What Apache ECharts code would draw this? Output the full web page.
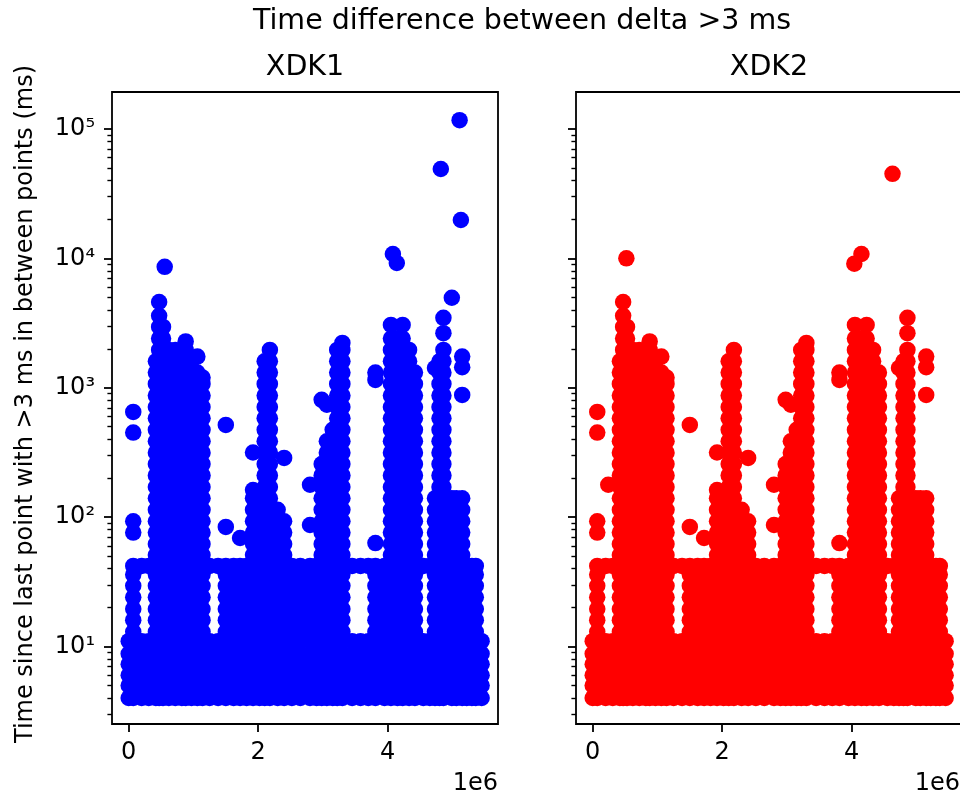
<!DOCTYPE html>
<html>
<head>
<meta charset="utf-8">
<script src="https://cdn.jsdelivr.net/npm/echarts@6/dist/echarts.min.js"></script>
<style>html,body{margin:0;padding:0;background:#fff}#c{width:960px;height:798px}</style>
</head>
<body>
<div id="c"></div>
<script>
// ---- data (x in ms, y in ms) ----
// Points visible in both panels (columns: [x, [y values]])
const sharedColumns = [
 [0,[4,5,6,7.3,8.8,11]],
 [70000,[4,5,6,7.3,8.8,11,13,16,19.5,24,29.5,36,42,76,93,450,650]],
 [200000,[4,5,6,7.3,8.8,11,42]],
 [310000,[4,5,6,7.3,8.8,11,42]],
 [420000,[4,5,6,7.3,8.8,11,13,16,19.5,24,29.5,36,42,51,62,76,93,114,140,171,210,257,315,386,473,580,710,870,1070,1310,1600]],
 [470000,[4,5,6,7.3,8.8,11,13,16,19.5,24,29.5,36,42,51,62,76,93,114,140,171,210,257,315,386,473,580,710,870,1070,1310,1600,1960,2400,2950,3600,4600]],
 [530000,[4,5,6,7.3,8.8,11,13,16,19.5,24,29.5,36,42,51,62,76,93,114,140,171,210,257,315,386,473,580,710,870,1070,1310,1600,1960,2400,2950]],
 [620000,[4,5,6,7.3,8.8,11,13,16,19.5,24,29.5,36,42,51,62,76,93,114,140,171,210,257,315,386,473,580,710,870,1070,1310,1600,1960]],
 [720000,[4,5,6,7.3,8.8,11,13,16,19.5,24,29.5,36,42,51,62,76,93,114,140,171,210,257,315,386,473,580,710,870,1070,1310,1600,1960]],
 [820000,[4,5,6,7.3,8.8,11,13,16,19.5,24,29.5,36,42,51,62,76,93,114,140,171,210,257,315,386,473,580,710,870,1070,1310,1600,1960]],
 [880000,[4,5,6,7.3,8.8,11,13,16,19.5,24,29.5,36,42,51,62,76,93,114,140,171,210,257,315,386,473,580,710,870,1070,1310,1600,1960,2280]],
 [970000,[4,5,6,7.3,8.8,11,13,16,19.5,24,29.5,36,42,51,62,76,93,114,140,171,210,257,315,386,473,580,710,870,1070,1310,1600]],
 [1060000,[4,5,6,7.3,8.8,11,13,16,19.5,24,29.5,36,42,51,62,76,93,114,140,171,210,257,315,386,473,580,710,870,1070,1310,1740]],
 [1140000,[4,5,6,7.3,8.8,11,13,16,19.5,24,29.5,36,42,51,62,76,93,114,140,171,210,257,315,386,473,580,710,870,1070,1200]],
 [1250000,[4,5,6,7.3,8.8,11,42]],
 [1380000,[4,5,6,7.3,8.8,11,42]],
 [1500000,[4,5,6,7.3,8.8,11,13,16,19.5,24,29.5,36,42,84,516]],
 [1620000,[4,5,6,7.3,8.8,11,13,16,19.5,24,29.5,36,42]],
 [1720000,[4,5,6,7.3,8.8,11,13,16,19.5,24,29.5,36,42,69]],
 [1820000,[4,5,6,7.3,8.8,11,13,16,19.5,24,29.5,36,42]],
 [1920000,[4,5,6,7.3,8.8,11,13,16,19.5,24,29.5,36,42,51,62,76,93,114,140,162,316]],
 [2020000,[4,5,6,7.3,8.8,11,13,16,19.5,24,29.5,36,42,51,62,76,93,114,140]],
 [2100000,[4,5,6,7.3,8.8,11,13,16,19.5,24,29.5,36,42,51,62,76,93,114,140,171,210,257,315,386,473,580,710,870,1070,1310,1600]],
 [2180000,[4,5,6,7.3,8.8,11,13,16,19.5,24,29.5,36,42,51,62,76,93,114,140,171,210,257,315,386,473,580,710,870,1070,1310,1600,1960]],
 [2300000,[4,5,6,7.3,8.8,11,13,16,19.5,24,29.5,36,42,51,62,76,93,114]],
 [2400000,[4,5,6,7.3,8.8,11,13,16,19.5,24,29.5,36,42,51,62,76,93,287]],
 [2520000,[4,5,6,7.3,8.8,11,13,16,19.5,24,29.5,36,42]],
 [2650000,[4,5,6,7.3,8.8,11,13,16,19.5,24,29.5,36,42]],
 [2800000,[4,5,6,7.3,8.8,11,13,16,19.5,24,29.5,36,42,87,178]],
 [2900000,[4,5,6,7.3,8.8,11,13,16,19.5,24,29.5,36,42]],
 [2980000,[4,5,6,7.3,8.8,11,13,16,19.5,24,29.5,36,42,51,62,76,93,114,140,171,210,257,807]],
 [3060000,[4,5,6,7.3,8.8,11,13,16,19.5,24,29.5,36,42,51,62,76,93,114,140,171,210,257,315,386,740]],
 [3150000,[4,5,6,7.3,8.8,11,13,16,19.5,24,29.5,36,42,51,62,76,93,114,140,171,210,257,315,386,473]],
 [3220000,[4,5,6,7.3,8.8,11,13,16,19.5,24,29.5,36,42,51,62,76,93,114,140,171,210,257,315,386,473,580,710,870,1070,1310,1600,1960]],
 [3300000,[4,5,6,7.3,8.8,11,13,16,19.5,24,29.5,36,42,51,62,76,93,114,140,171,210,257,315,386,473,580,710,870,1070,1310,1600,1960,2220]],
 [3450000,[4,5,6,7.3,8.8,11,42]],
 [3580000,[4,5,6,7.3,8.8,11,42]],
 [3700000,[4,5,6,7.3,8.8,11,42]],
 [3810000,[4,5,6,7.3,8.8,11,13,16,19.5,24,29.5,36,42,63,1150,1310]],
 [3950000,[4,5,6,7.3,8.8,11,13,16,19.5,24,29.5,36,42]],
 [4050000,[4,5,6,7.3,8.8,11,13,16,19.5,24,29.5,36,42,51,62,76,93,114,140,171,210,257,315,386,473,580,710,870,1070,1310,1600,1960,2400,3060]],
 [4150000,[4,5,6,7.3,8.8,11,13,16,19.5,24,29.5,36,42,51,62,76,93,114,140,171,210,257,315,386,473,580,710,870,1070,1310,1600,1960,2400]],
 [4230000,[4,5,6,7.3,8.8,11,13,16,19.5,24,29.5,36,42,51,62,76,93,114,140,171,210,257,315,386,473,580,710,870,1070,1310,1600,1960,2400,3060]],
 [4330000,[4,5,6,7.3,8.8,11,13,16,19.5,24,29.5,36,42,51,62,76,93,114,140,171,210,257,315,386,473,580,710,870,1070,1310,1600,1960]],
 [4420000,[4,5,6,7.3,8.8,11,13,16,19.5,24,29.5,36,42,51,62,76,93,114,140,171,210,257,315,386,473,580,710,870,1070,1310]],
 [4550000,[4,5,6,7.3,8.8,11,42]],
 [4650000,[4,5,6,7.3,8.8,11,42]],
 [4730000,[4,5,6,7.3,8.8,11,13,16,19.5,24,29.5,36,42,51,62,76,93,114,140,1420]],
 [4800000,[4,5,6,7.3,8.8,11,13,16,19.5,24,29.5,36,42,51,62,76,93,114,140,171,210,257,315,386,473,580,710,870,1070,1310,1600]],
 [4860000,[4,5,6,7.3,8.8,11,13,16,19.5,24,29.5,36,42,51,62,76,93,114,140,171,210,257,315,386,473,580,710,870,1070,1310,1600,1960,2640,3470]],
 [4990000,[4,5,6,7.3,8.8,11,13,16,19.5,24,29.5,36,42,51,62,76,93,114,140]],
 [5060000,[4,5,6,7.3,8.8,11,13,16,19.5,24,29.5,36,42,51,62,76,93,114,140]],
 [5150000,[4,5,6,7.3,8.8,11,13,16,19.5,24,29.5,36,42,51,62,76,93,114,140,880,1440,1740]],
 [5220000,[4,5,6,7.3,8.8,11,13,16,19.5,24,29.5,36,42]],
 [5300000,[4,5,6,7.3,8.8,11,13,16,19.5,24,29.5,36,42]],
 [5360000,[4,5,6,7.3,8.8,11,13,16,19.5,24,29.5,36,42]],
 [5450000,[4,5,6,7.3,8.8,11]]
];
// Points seen only in the XDK1 panel
const xdk1Only = [[556000,8600],[5110000,117000],[5130000,19800],[4820000,49000],[4990000,4960],[4080000,10800],[4140000,9200]];
// Points seen only in the XDK2 panel
const xdk2Only = [[520000,10000],[4630000,45000],[4150000,10800],[4040000,9100],[240000,178]];

const panelTitles = ['XDK1','XDK2'];
const seriesColors = ['#0000ff','#ff0000'];
const xTickValues = [0, 2000000, 4000000];
const xTickLabels = ['0','2','4'];
const yTickExponents = [1,2,3,4,5];
const yTickLabels = ['10¹','10²','10³','10⁴','10⁵'];
const yMinorMultipliers = [2,3,4,5,6,7,8,9];
const xRange = [-258000, 5703000];
const yRange = [2.52, 193000];

// ---- layout ----
const FONT = 'DejaVu Sans';
const TITLE_SIZE = 28.5, TICK_SIZE = 24;
const grids = [{left:112, top:92, width:386, height:632},{left:576, top:92, width:386, height:632}];
const lMin = Math.log10(yRange[0]), lMax = Math.log10(yRange[1]);
const minorLogs = [];
for (let e = 0; e <= 5; e++) for (const k of yMinorMultipliers) {
  const v = Math.log10(k) + e; if (v > lMin && v < lMax) minorLogs.push(v);
}
function toPoints(cols, extra) {
  const pts = [];
  cols.forEach(([x, ys]) => ys.forEach(y => pts.push([x, y])));
  extra.forEach(p => pts.push(p));
  return pts;
}
const seriesData = [toPoints(sharedColumns, xdk1Only), toPoints(sharedColumns, xdk2Only)];

const xAxis = [], yAxis = [], series = [], graphic = [];
grids.forEach((g, i) => {
  xAxis.push({
    gridIndex: i, type: 'value', min: xRange[0], max: xRange[1],
    axisLine: {show: false, onZero: false}, splitLine: {show: false},
    axisTick: {show: true, customValues: xTickValues, length: 8, lineStyle: {color: '#000', width: 1.8}},
    axisLabel: {show: true, customValues: xTickValues, margin: 17, color: '#000', fontSize: TICK_SIZE, fontFamily: FONT,
      formatter: v => xTickLabels[xTickValues.indexOf(v)]}
  });
  yAxis.push({
    gridIndex: i, type: 'log', logBase: 10, min: yRange[0], max: yRange[1], position: 'left',
    axisLine: {show: false, onZero: false}, axisTick: {show: false}, axisLabel: {show: false}, splitLine: {show: false}
  });
  yAxis.push({
    gridIndex: i, type: 'value', min: lMin, max: lMax, position: 'left',
    axisLine: {show: false, onZero: false}, splitLine: {show: false},
    axisTick: {show: true, customValues: yTickExponents, length: 8, lineStyle: {color: '#000', width: 1.8}},
    axisLabel: {show: i === 0, customValues: yTickExponents, margin: 17, color: '#000', fontSize: TICK_SIZE, fontFamily: FONT,
      formatter: v => yTickLabels[yTickExponents.indexOf(Math.round(v))]}
  });
  yAxis.push({
    gridIndex: i, type: 'value', min: lMin, max: lMax, position: 'left',
    axisLine: {show: false, onZero: false}, splitLine: {show: false},
    axisTick: {show: true, customValues: minorLogs, length: 4.6, lineStyle: {color: '#000', width: 1.4}},
    axisLabel: {show: false}
  });
  series.push({
    type: 'scatter', xAxisIndex: i, yAxisIndex: i * 3, data: seriesData[i],
    symbol: 'circle', symbolSize: 16.5, itemStyle: {color: seriesColors[i], opacity: 1}, silent: true
  });
  graphic.push({type: 'text', x: g.left + g.width / 2, y: 68,
    style: {text: panelTitles[i], fontSize: TITLE_SIZE, fontFamily: FONT, fill: '#000', align: 'center', verticalAlign: 'middle'}});
  graphic.push({type: 'text', x: Math.min(g.left + g.width, 960), y: 784,
    style: {text: '1e6', fontSize: TICK_SIZE, fontFamily: FONT, fill: '#000', align: 'right', verticalAlign: 'middle'}});
});
graphic.push({type: 'text', x: 522, y: 22,
  style: {text: 'Time difference between delta >3 ms', fontSize: TITLE_SIZE, fontFamily: FONT, fill: '#000', align: 'center', verticalAlign: 'middle'}});
graphic.push({type: 'text', x: 26, y: 404, rotation: Math.PI / 2,
  style: {text: 'Time since last point with >3 ms in between points (ms)', fontSize: TICK_SIZE, fontFamily: FONT, fill: '#000', align: 'center', verticalAlign: 'middle'}});

const chart = echarts.init(document.getElementById('c'), null, {renderer: 'canvas'});
chart.setOption({
  animation: false,
  backgroundColor: '#fff',
  grid: grids.map(g => Object.assign({show: true, borderColor: '#000', borderWidth: 1.8, backgroundColor: 'transparent', containLabel: false, outerBoundsMode: 'none'}, g)),
  xAxis, yAxis, series, graphic
});
</script>
</body>
</html>
